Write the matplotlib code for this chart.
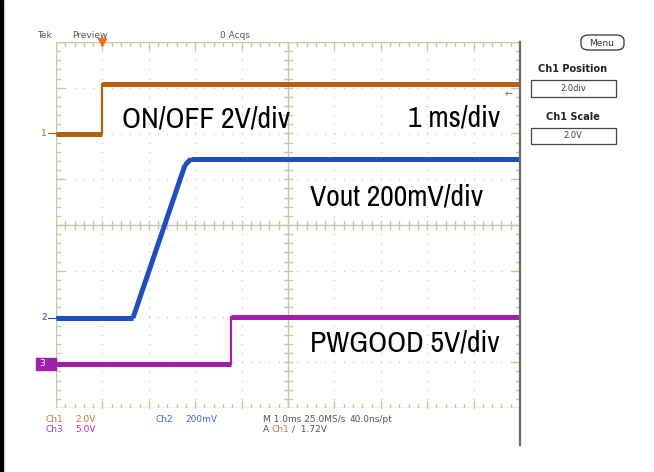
import numpy as np
import matplotlib
matplotlib.use('Agg')
import matplotlib.pyplot as plt
from matplotlib import font_manager
from matplotlib.patches import Rectangle, FancyBboxPatch

# tiempos en ms (centro de pantalla = 0), tensiones en V
t_onoff = [-5.0, -4.0, -4.0, 5.0]
v_onoff = [0.0, 0.0, 2.15, 2.15]
t_vout = [-5.0, -3.34, -2.22, -2.09, 5.0]
v_vout = [0.0, 0.0, 0.668, 0.695, 0.695]
t_pwgood = [-5.0, -1.23, -1.23, 5.0]
v_pwgood = [0.0, 0.0, 5.1, 5.1]

# posicion (div) y escala (V/div) de cada canal
ch_pos = {'ch1': 2.0, 'ch2': -2.03, 'ch3': -3.04}
ch_scale = {'ch1': 2.0, 'ch2': 0.2, 'ch3': 5.0}
trig_level = 1.72

c1 = '#b5600f'
c2 = '#1f4fbf'
c3 = '#a021a8'
frame = '#c9c6ad'
W, H = 654, 472

# fuente estrecha si hay alguna, si no Liberation Sans un poco mas chica
nombres = sorted({f.name for f in font_manager.fontManager.ttflist})
estrechas = [n for n in nombres if 'Narrow' in n or 'Condensed' in n]
if estrechas:
    fam_big, size_big = [estrechas[0], 'DejaVu Sans'], 21.4
else:
    fam_big, size_big = ['Liberation Sans', 'DejaVu Sans'], 18.3

def fx(x):
    return x / W

def fy(y):
    return 1 - y / H

def div(v, ch):
    return ch_pos[ch] + np.array(v) / ch_scale[ch]

def traza(ax, t, y, color):
    # flancos verticales finos, tramos normales gruesos
    ax.plot(t, y, color=color, lw=1.6)
    for i in range(len(t) - 1):
        if t[i] != t[i + 1]:
            ax.plot(t[i:i + 2], y[i:i + 2], color=color, lw=3.6, solid_capstyle='butt')

fig = plt.figure(figsize=(6.54, 4.72), dpi=100)
fig.patch.set_facecolor('white')
ax = fig.add_axes([fx(56), fy(408), 464 / W, 366 / H])
ax.set_xlim(-5, 5)
ax.set_ylim(-4, 4)
ax.axis('off')

# reticula punteada
minor_x = np.arange(-5, 5.001, 0.2)
minor_y = np.arange(-4, 4.001, 0.2)
for gx in range(-4, 5):
    if gx == 0:
        continue
    ax.plot(np.full_like(minor_y, gx), minor_y, ls='none', marker='s', ms=0.9, color='#c8c8c8', mew=0)
for gy in range(-3, 4):
    if gy == 0:
        continue
    ax.plot(minor_x, np.full_like(minor_x, gy), ls='none', marker='s', ms=0.9, color='#c8c8c8', mew=0)

# marco y cruz central con marcas
kw = dict(color=frame, lw=1.0)
ax.plot([-5, -5], [-4, 4], **kw)
ax.plot([-5, 5], [-4, -4], **kw)
ax.plot([-5, 5], [4, 4], **kw)
ax.plot([0, 0], [-4, 4], **kw)
ax.plot([-5, 5], [0, 0], **kw)
tk = 0.09
for x in minor_x:
    big = abs(x - round(x)) < 1e-6
    L = tk * 1.8 if big else tk
    ax.plot([x, x], [-4, -4 + L], **kw)
    ax.plot([x, x], [4, 4 - L], **kw)
    ax.plot([x, x], [-tk, tk], **kw)
for y in minor_y:
    big = abs(y - round(y)) < 1e-6
    L = tk * 1.8 if big else tk
    ax.plot([-5, -5 + L], [y, y], **kw)
    ax.plot([5, 5 - L], [y, y], **kw)
    ax.plot([-tk, tk], [y, y], **kw)

# trazas
traza(ax, t_onoff, div(v_onoff, 'ch1'), c1)
traza(ax, t_vout, div(v_vout, 'ch2'), c2)
traza(ax, t_pwgood, div(v_pwgood, 'ch3'), c3)

# borde derecho oscuro
fig.add_artist(plt.Line2D([fx(520), fx(520)], [fy(42), fy(445)], color='#6b6b62', lw=1.6))
# barra negra a la izquierda
fig.add_artist(Rectangle((0, 0), 3 / W, 1, color='black', transform=fig.transFigure))

# marcadores de canal
fig.text(fx(47), fy(133), '1', color=c1, fontsize=6.5, ha='right', va='center')
fig.text(fx(47), fy(318), '2', color=c2, fontsize=6.5, ha='right', va='center')
fig.add_artist(plt.Line2D([fx(48), fx(56)], [fy(133), fy(133)], color=c1, lw=0.8))
fig.add_artist(plt.Line2D([fx(48), fx(56)], [fy(318), fy(318)], color=c2, lw=0.8))
fig.add_artist(Rectangle((fx(36), fy(370)), 20 / W, 12 / H, color=c3, transform=fig.transFigure))
fig.text(fx(42), fy(364), '3', color='white', fontsize=6.5, ha='center', va='center')
ty = div([trig_level], 'ch1')[0]
fig.text(fx(509), fy(225 - ty * 45.75), '\u2190', color=c1, fontsize=7, ha='center', va='center')
# marcador de disparo
ax.plot([-4.0], [4.0], marker='v', color='#f07020', ms=6, clip_on=False)

# cabecera
hdr = dict(color='#555555', fontsize=6.5, va='center')
fig.text(fx(37), fy(35), 'Tek', **hdr)
fig.text(fx(72), fy(35), 'Preview', **hdr)
fig.text(fx(220), fy(35), '0 Acqs', **hdr)

# panel derecho
fig.add_artist(FancyBboxPatch((fx(581), fy(50)), 43 / W, 15 / H, boxstyle='round,pad=0,rounding_size=0.012',
                              fc='white', ec='#333333', lw=0.9, transform=fig.transFigure))
fig.text(fx(602), fy(43), 'Menu', fontsize=6.5, color='#333333', ha='center', va='center')
fig.text(fx(573), fy(69), 'Ch1 Position', fontsize=7, fontweight='bold', color='#222222', ha='center', va='center')
fig.add_artist(Rectangle((fx(531), fy(97)), 85 / W, 17 / H, fc='white', ec='#444444', lw=0.9, transform=fig.transFigure))
fig.text(fx(573), fy(88.5), '2.0div', fontsize=6, color='#444444', ha='center', va='center')
fig.text(fx(573), fy(117), 'Ch1 Scale', fontsize=7, fontweight='bold', color='#222222', ha='center', va='center')
fig.add_artist(Rectangle((fx(531), fy(144)), 85 / W, 16 / H, fc='white', ec='#444444', lw=0.9, transform=fig.transFigure))
fig.text(fx(573), fy(136), '2.0V', fontsize=6, color='#444444', ha='center', va='center')

# pie
ft = dict(fontsize=6.5, va='center')
fig.text(fx(45), fy(419), 'Ch1', color='#c07a3a', **ft)
fig.text(fx(75), fy(419), '2.0V', color='#c07a3a', **ft)
fig.text(fx(45), fy(429), 'Ch3', color='#b03cb8', **ft)
fig.text(fx(75), fy(429), '5.0V', color='#b03cb8', **ft)
fig.text(fx(155), fy(419), 'Ch2', color='#3b6cc4', **ft)
fig.text(fx(185), fy(419), '200mV', color='#3b6cc4', **ft)
fig.text(fx(263), fy(419), 'M 1.0ms 25.0MS/s', color='#555555', **ft)
fig.text(fx(350), fy(419), '40.0ns/pt', color='#555555', **ft)
fig.text(fx(263), fy(429), 'A', color='#555555', **ft)
fig.text(fx(272), fy(429), 'Ch1', color='#c07a3a', **ft)
fig.text(fx(292), fy(429), '\u2215  1.72V', color='#555555', **ft)

# anotaciones grandes
big = dict(fontsize=size_big, color='black', family=fam_big, va='center')
fig.text(fx(122), fy(119), 'ON/OFF 2V/div', **big)
fig.text(fx(500), fy(118), '1 ms/div', ha='right', **big)
fig.text(fx(310), fy(197), 'Vout 200mV/div', **big)
fig.text(fx(310), fy(343), 'PWGOOD 5V/div', **big)

fig.savefig('out.png', dpi=100)
